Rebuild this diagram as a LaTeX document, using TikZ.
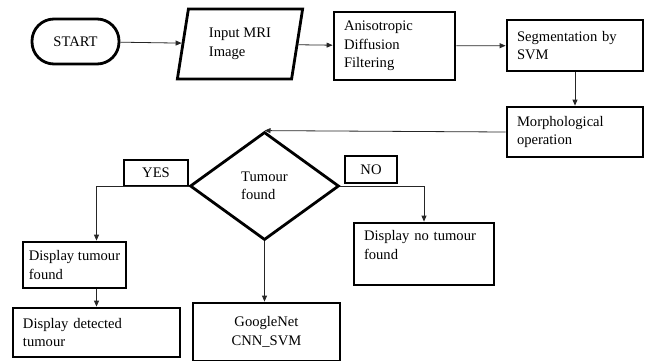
\documentclass[tikz,border=0pt]{standalone}
\usepackage{fontspec}
\setmainfont{Liberation Serif}
\usetikzlibrary{shapes.geometric,arrows.meta}
\tikzset{
  every node/.style={font=\fontsize{14.6}{18.5}\selectfont},
  boxnode/.style={draw, line width=2.8pt, rectangle, inner xsep=10pt, inner ysep=0pt, align=left},
  labbox/.style={draw, line width=2.8pt, rectangle, inner sep=0pt, align=center},
  arr/.style={line width=0.8pt, draw=black!85, -{Triangle[length=6pt,width=5pt]}},
}
\begin{document}
\begin{tikzpicture}[x=1pt,y=-1pt]
\useasboundingbox (0,0) rectangle (645,360);
\clip (0,0) rectangle (645,360);
% nodes
\node[draw, line width=2.8pt, rounded corners=22pt, minimum width=87pt, minimum height=45pt, inner sep=0pt] (start) at (75.5,41.5) {START};
\node[draw, line width=2.8pt, trapezium, trapezium stretches=true, trapezium left angle=78, trapezium right angle=102, minimum width=126pt, minimum height=70pt, inner sep=0pt, align=left] (inp) at (240,44) {Input MRI\\Image};
\node[boxnode, text width=101pt, minimum height=68pt] (aniso) at (394.5,46) {Anisotropic\\Diffusion\\Filtering};
\node[boxnode, text width=116pt, minimum height=51pt] (seg) at (575,45.5) {Segmentation by\\SVM};
\node[boxnode, text width=116pt, minimum height=50pt] (morph) at (575,132) {Morphological\\operation};
\node[draw, line width=2.8pt, diamond, aspect=1.38, minimum width=149pt, minimum height=108pt, inner sep=0pt, align=left] (dia) at (264.5,186) {Tumour\\found};
\node[labbox, minimum width=64pt, minimum height=26pt] (yes) at (156,173) {YES};
\node[labbox, minimum width=52pt, minimum height=27pt] (no) at (371,169.5) {NO};
\node[draw, line width=2.8pt, rectangle, inner sep=0pt, align=left, minimum width=103pt, minimum height=46pt] (dtf) at (74.5,265) {Display tumour\\found};
\node[boxnode, text width=147pt, minimum height=49pt] (ddt) at (96.5,332.5) {Display detected\\tumour};
\node[boxnode, align=center, text width=127pt, minimum height=58pt] (gnet) at (266.5,332) {GoogleNet\\CNN\_SVM};
\node[boxnode, text width=120pt, minimum height=62pt] (ndt) at (424,254) {Display no tumour\\found\\\mbox{}};
% connectors
\draw[arr] (start) -- (inp);
\draw[arr] (inp) -- (aniso);
\draw[arr] (aniso) -- (seg);
\draw[arr] (seg.south) -- (morph.north);
\draw[arr] (morph.west) -- (dia.north);
\draw[arr] (dia.west) -| (ddt.north |- dtf.north);
\draw[arr] (ddt.north |- dtf.south) -- (ddt.north);
\draw[arr] (dia.south) -- (dia.south |- gnet.north);
\draw[arr] (dia.east) -| (ndt.north);
\end{tikzpicture}
\end{document}
